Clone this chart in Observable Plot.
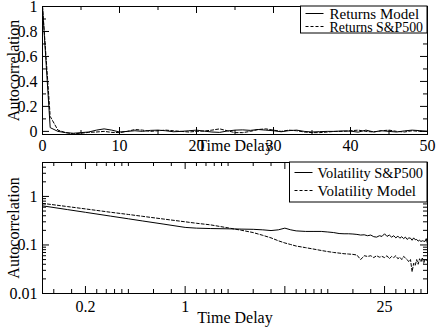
<!DOCTYPE html>
<html><head><meta charset="utf-8">
<script src="https://cdn.jsdelivr.net/npm/d3@7"></script>
<script src="https://cdn.jsdelivr.net/npm/@observablehq/plot@0.6"></script>
<style>
body{margin:0;background:#fff;}
#wrap{position:relative;width:436px;height:327px;overflow:hidden;}
#top,#bot{position:absolute;left:0;}
#top{top:0}#bot{top:160px}
</style></head><body><div id="wrap"><div id="top"></div><div id="bot"></div></div>
<script>
// ---------- Top panel: returns autocorrelation ----------
const lags = [0,1,2,3,4,5,6,7,8,9,10,11,12,13,14,15,16,17,18,19,20,21,22,23,24,25,26,27,28,29,30,31,32,33,34,35,36,37,38,39,40,41,42,43,44,45,46,47,48,49,50];
const returnsModel = [1,0.03,0.0,-0.01,-0.015,-0.01,-0.005,0.01,0.02,0.01,-0.005,0.0,0.005,0.0,0.008,0.01,0.005,-0.003,0.0,0.005,0.01,0.002,-0.005,-0.008,0.003,0.01,0.012,0.008,0.015,0.01,0.005,-0.003,0.006,0.01,0.0,-0.005,-0.002,0.0,0.0,0.004,0.002,-0.006,0.01,-0.004,0.005,0.0,-0.005,0.004,0.01,0.006,0.0];
const returnsSP = [1,0.12,0.01,-0.01,-0.02,-0.015,-0.008,-0.005,0.0,-0.008,-0.01,0.0,0.015,0.01,0.0,0.005,0.01,0.005,0.0,-0.005,0.0,0.003,0.01,0.02,0.005,-0.01,-0.01,0.0,0.015,0.02,0.01,0.0,0.01,0.005,-0.005,-0.01,-0.01,-0.005,0.0,0.0,0.005,0.01,0.0,-0.005,0.005,0.01,0.0,-0.005,0.005,0.0,0.0];
const topXMajor = [0,10,20,30,40,50];
const topXMinor = [5,15,25,35,45];
const topYMajor = [0,0.2,0.4,0.6,0.8,1];
const topYMinor = [0.1,0.3,0.5,0.7,0.9];
const topLegend = ["Returns Model","Returns S&P500"];

// ---------- Bottom panel: volatility autocorrelation (log-log) ----------
const volX = [0.1,0.15,0.2,0.3,0.4,0.5,0.7,1,1.2,1.5,2,2.5,3,3.5,4,4.5,5,5.5,6,7,8,9,10,11,12,13,14,15,16,17,18,19,20,21,22,23,24,25,26,27,28,29,30,31,32,33,34,35,36,37,38,39,40,41,42,43,44,45,46,47,48,49,50];
const volSP = [0.64,0.535,0.471,0.393,0.346,0.313,0.27,0.23,0.222,0.218,0.215,0.212,0.21,0.205,0.198,0.205,0.222,0.205,0.195,0.19,0.19,0.19,0.185,0.18,0.172,0.17,0.17,0.168,0.165,0.16,0.162,0.155,0.16,0.148,0.145,0.155,0.15,0.17,0.15,0.16,0.145,0.155,0.14,0.152,0.138,0.148,0.135,0.145,0.13,0.14,0.138,0.125,0.14,0.128,0.13,0.12,0.125,0.118,0.122,0.12,0.118,0.135,0.105];
const volModel = [0.72,0.617,0.553,0.472,0.425,0.39,0.343,0.30,0.28,0.26,0.225,0.2,0.18,0.158,0.14,0.122,0.11,0.102,0.095,0.088,0.082,0.077,0.073,0.07,0.068,0.066,0.065,0.064,0.062,0.05,0.06,0.058,0.06,0.055,0.06,0.056,0.058,0.055,0.06,0.052,0.058,0.055,0.06,0.052,0.056,0.05,0.058,0.054,0.05,0.045,0.05,0.028,0.042,0.038,0.05,0.04,0.052,0.045,0.055,0.042,0.05,0.048,0.05];
const botXMajor = [0.2,1,5,25];
const botXMinor = [0.12,0.16,0.24,0.28,0.32,0.36,0.4,0.6,0.8,1.2,1.4,1.6,1.8,2,3,4,6,7,8,9,10,15,20,30,35,40,45,50];
const botYMajor = [0.01,0.1,1];
const botYMinor = [0.02,0.03,0.04,0.05,0.06,0.07,0.08,0.09,0.2,0.3,0.4,0.5,0.6,0.7,0.8,0.9,2,3,4,5];
const botLegend = ["Volatility S&P500","Volatility Model"];

const FONT = "'Liberation Serif','Times New Roman',Times,serif";
const W = 436, ML = 42, MR = 9;
const FW = W - ML - MR;
const MAJ = 7, MIN = 4;
const FS = 16, LFS = 15;

function frameTicks(xMaj, xMin, yMaj, yMin, fh) {
  const m = [];
  for (const [arr, len] of [[xMaj, MAJ], [xMin, MIN]]) {
    m.push(Plot.tickX(arr, {x: d => d, insetTop: fh - len, stroke: "black"}));
    m.push(Plot.tickX(arr, {x: d => d, insetBottom: fh - len, stroke: "black"}));
  }
  for (const [arr, len] of [[yMaj, MAJ], [yMin, MIN]]) {
    m.push(Plot.tickY(arr, {y: d => d, insetRight: FW - len, stroke: "black"}));
    m.push(Plot.tickY(arr, {y: d => d, insetLeft: FW - len, stroke: "black"}));
  }
  return m;
}

function addLegend(svg, box, names, rowYs, textX) {
  const g = d3.select(svg).append("g");
  g.append("rect").attr("x", box.x).attr("y", box.y).attr("width", box.w).attr("height", box.h)
    .attr("fill", "white").attr("stroke", "black");
  const maxW = box.w - textX - 4;
  names.forEach((n, i) => {
    const y = rowYs[i];
    g.append("line").attr("x1", box.x + 5).attr("x2", box.x + 23).attr("y1", y).attr("y2", y)
      .attr("stroke", "black").attr("stroke-width", 1).attr("stroke-dasharray", i === 0 ? null : "3,2");
    const t = g.append("text").attr("x", box.x + textX).attr("y", y).attr("dy", "0.35em")
      .attr("text-anchor", "start")
      .attr("font-family", FONT).attr("font-size", LFS).attr("fill", "black").text(n);
    const w = t.node().getComputedTextLength();
    if (w > maxW) t.attr("textLength", maxW).attr("lengthAdjust", "spacingAndGlyphs");
  });
}

// top
const topH = 160, topMT = 6, topMB = 26;
const topFH = topH - topMT - topMB;
const topData = lags.map((l, i) => ({lag: l, model: returnsModel[i], sp: returnsSP[i]}));
const topPlot = Plot.plot({
  width: W, height: topH, marginLeft: ML, marginRight: MR, marginTop: topMT, marginBottom: topMB,
  style: {fontFamily: FONT, fontSize: FS + "px", background: "white", color: "black"},
  x: {domain: [0, 50], ticks: topXMajor, tickSize: 0, tickPadding: 5, label: null, tickFormat: d => String(d)},
  y: {domain: [-0.025, 1], ticks: topYMajor, tickSize: 0, tickPadding: 5, label: null, tickFormat: d => String(d)},
  marks: [
    ...frameTicks(topXMajor, topXMinor, topYMajor, topYMinor, topFH),
    Plot.line(topData, {x: "lag", y: "sp", stroke: "black", strokeWidth: 1, strokeDasharray: "3,2"}),
    Plot.line(topData, {x: "lag", y: "model", stroke: "black", strokeWidth: 1}),
    Plot.frame({stroke: "black"}),
    Plot.text(["Autocorrelation"], {text: d => d, frameAnchor: "left", textAnchor: "middle", lineAnchor: "middle", rotate: -90, dx: -29, fontSize: FS}),
    Plot.text(["Time Delay"], {text: d => d, frameAnchor: "bottom", textAnchor: "middle", lineAnchor: "middle", dy: 11, fontSize: FS})
  ]
});
document.getElementById("top").append(topPlot);
addLegend(topPlot, {x: 300.5, y: 6, w: 126.5, h: 27}, topLegend, [13.5, 26.5], 29);

// bottom
const botH = 167, botMT = 2, botMB = 34;
const botFH = botH - botMT - botMB;
const botData = volX.map((x, i) => ({x, sp: volSP[i], model: volModel[i]}));
const botPlot = Plot.plot({
  width: W, height: botH, marginLeft: ML, marginRight: MR, marginTop: botMT, marginBottom: botMB,
  style: {fontFamily: FONT, fontSize: FS + "px", background: "white", color: "black"},
  x: {type: "log", domain: [0.1, 50], ticks: botXMajor, tickSize: 0, tickPadding: 7, label: null, tickFormat: d => String(d)},
  y: {type: "log", domain: [0.01, 5], ticks: botYMajor, tickSize: 0, tickPadding: 5, label: null, tickFormat: d => String(d)},
  marks: [
    ...frameTicks(botXMajor, botXMinor, botYMajor, botYMinor, botFH),
    Plot.line(botData, {x: "x", y: "model", stroke: "black", strokeWidth: 1, strokeDasharray: "3,2"}),
    Plot.line(botData, {x: "x", y: "sp", stroke: "black", strokeWidth: 1}),
    Plot.frame({stroke: "black"}),
    Plot.text(["Autocorrelation"], {text: d => d, frameAnchor: "left", textAnchor: "middle", lineAnchor: "middle", rotate: -90, dx: -29, fontSize: FS}),
    Plot.text(["Time Delay"], {text: d => d, frameAnchor: "bottom", textAnchor: "middle", lineAnchor: "middle", dy: 24, fontSize: FS})
  ]
});
document.getElementById("bot").append(botPlot);
addLegend(botPlot, {x: 289.5, y: 2, w: 137.5, h: 40}, botLegend, [12.5, 30.5], 28);
</script></body></html>
